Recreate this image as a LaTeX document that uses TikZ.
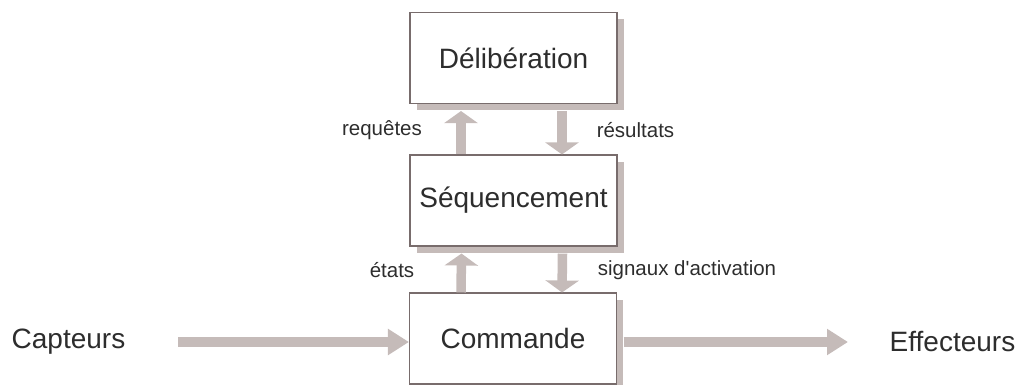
\documentclass[tikz,border=0pt]{standalone}
\usepackage{fontspec}
\setmainfont{Liberation Sans}
\usetikzlibrary{arrows.meta,shadows}
\definecolor{arrowc}{RGB}{197,187,185}
\definecolor{boxc}{RGB}{120,108,108}
\definecolor{txtc}{RGB}{45,45,45}
\tikzset{
  layerbox/.style={draw=boxc, line width=1.1pt, fill=white, minimum width=207pt, minimum height=91pt,
    inner sep=0pt, font=\fontsize{28}{32}\selectfont, text=txtc,
    drop shadow={shadow xshift=6.5pt, shadow yshift=-7pt, fill=arrowc, opacity=1}},
  vflow/.style={draw=arrowc, line width=9.5pt, -{Triangle[width=33pt,length=12pt]}},
  hflow/.style={draw=arrowc, line width=10pt, -{Triangle[width=25pt,length=21pt]}},
  lbl/.style={font=\fontsize{20.5}{24}\selectfont, text=txtc, inner sep=0pt},
  ext/.style={font=\fontsize{28}{32}\selectfont, text=txtc, inner sep=0pt}
}
\begin{document}
\begin{tikzpicture}[x=1pt,y=1pt]
\useasboundingbox (0,0) rectangle (1019,-385);
\node[layerbox] (delib) at (513.5,-58) {Délibération};
\node[layerbox] (seq) at (513.5,-200.5) {Séquencement};
\node[layerbox] (cmd) at (513,-338.5) {Commande};
% vertical connectors
\draw[vflow] ([xshift=-52.5pt]seq.north) -- ([xshift=-52.5pt,yshift=-7pt]delib.south);
\draw[vflow] ([xshift=48.5pt,yshift=-7pt]delib.south) -- ([xshift=48.5pt]seq.north);
\draw[vflow] ([xshift=-52pt]cmd.north) -- ([xshift=-52pt,yshift=-7pt]seq.south);
\draw[vflow] ([xshift=49pt,yshift=-7pt]seq.south) -- ([xshift=49pt]cmd.north);
% labels
\node[lbl] (lreq) at (382,-130) {requêtes};
\node[lbl] (lres) at (635.5,-130) {résultats};
\node[lbl] (leta) at (392,-270) {états};
\node[lbl] (lsig) at (687,-270) {signaux d\textquotesingle activation};
% sensors / effectors
\node[ext] (capt) at (68.5,-342) {Capteurs};
\node[ext] (effe) at (952.5,-342) {Effecteurs};
\coordinate (cin) at (178,-342);
\coordinate (cout) at (848,-342);
\draw[hflow] (cin) -- (cin -| cmd.west);
\draw[hflow] ([xshift=6.5pt]cmd.east |- cout) -- (cout);
\end{tikzpicture}
\end{document}
